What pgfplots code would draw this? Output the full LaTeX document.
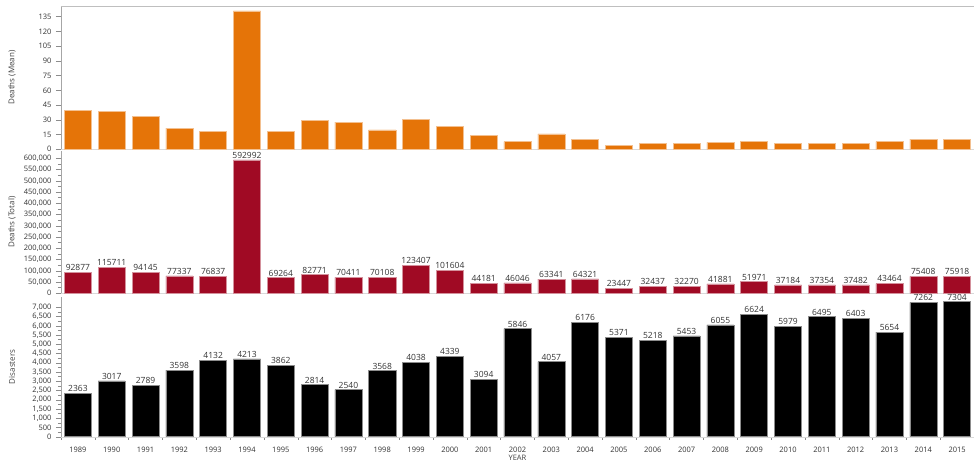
\documentclass[border=0pt]{standalone}
\usepackage{pgfplots}
\usepackage{pgfplotstable}
\pgfplotsset{compat=1.18}
\usepackage{fontspec}
\setmainfont{Open Sans}
\definecolor{cOrange}{HTML}{E57408}
\definecolor{cRed}{HTML}{A00A24}
\pgfplotstableread{
i year mean total dis
0 1989 39.30 92877 2363
1 1990 38.35 115711 3017
2 1991 33.76 94145 2789
3 1992 21.49 77337 3598
4 1993 18.60 76837 4132
5 1994 140.75 592992 4213
6 1995 17.93 69264 3862
7 1996 29.41 82771 2814
8 1997 27.72 70411 2540
9 1998 19.65 70108 3568
10 1999 30.56 123407 4038
11 2000 23.42 101604 4339
12 2001 14.28 44181 3094
13 2002 7.88 46046 5846
14 2003 15.61 63341 4057
15 2004 10.41 64321 6176
16 2005 4.37 23447 5371
17 2006 6.22 32437 5218
18 2007 5.92 32270 5453
19 2008 6.92 41881 6055
20 2009 7.85 51971 6624
21 2010 6.22 37184 5979
22 2011 5.75 37354 6495
23 2012 5.85 37482 6403
24 2013 7.69 43464 5654
25 2014 10.38 75408 7262
26 2015 10.39 75918 7304
}\data
\pgfplotsset{
  panel/.style={
    scale only axis, width=913pt, xmin=-0.5, xmax=26.5, ymin=0,
    anchor=south west,
    axis x line*=bottom, axis y line*=left,
    x axis line style={draw=black!15, -},
    y axis line style={draw=black!35, -},
    tick style={draw=black!45, line width=0.4pt},
    tick align=outside, major tick length=5pt, minor tick length=3pt,
    ytick pos=left,
    tick label style={font=\fontsize{7.5}{9}\selectfont, text=black!80},
    yticklabel style={xshift=-1pt},
    /pgf/number format/assume math mode=true,
    scaled y ticks=false,
    yticklabel={\pgfmathprintnumber[fixed,precision=0,1000 sep={,}]{\tick}},
    ybar, bar width=0.8, clip=false,
    every axis y label/.style={at={(axis description cs:-0.0537,0.5)}, rotate=90, anchor=center, font=\fontsize{8}{10}\selectfont, text=black!75},
    every node near coord/.append style={font=\fontsize{8.5}{10}\selectfont, text=black!80, inner sep=1.2pt},
  }
}
\begin{document}
\begin{tikzpicture}
\useasboundingbox (0,0) rectangle (974pt,461pt);
% top panel
\begin{axis}[panel, at={(61pt,311.7pt)}, height=143.3pt, ymax=145.8,
  ytick={0,15,...,135}, xtick=\empty, ylabel={Deaths (Mean)}]
\addplot[fill=cOrange, draw=cOrange!45!white, line width=0.5pt] table[x=i, y=mean] {\data};
\draw[black!25] (rel axis cs:0,1) -- (rel axis cs:1,1);
\end{axis}
% middle panel
\begin{axis}[panel, at={(61pt,167.7pt)}, height=142.3pt, ymax=632444,
  ytick={0,50000,...,600000}, minor y tick num=1, xtick=\empty, ylabel={Deaths (Total)},
  nodes near coords, point meta=explicit symbolic]
\addplot[fill=cRed, draw=cRed!45!white, line width=0.5pt] table[x=i, y=total, meta=total] {\data};
\end{axis}
% bottom panel
\begin{axis}[panel, at={(61pt,24.3pt)}, height=139.7pt, ymax=7557,
  ytick={0,500,...,7000}, minor y tick num=1, ylabel={Disasters},
  xtick={0,...,26}, xticklabels={1989,1990,1991,1992,1993,1994,1995,1996,1997,1998,1999,2000,2001,2002,2003,2004,2005,2006,2007,2008,2009,2010,2011,2012,2013,2014,2015},
  x tick style={draw=none},
  minor xtick={-0.5,0.5,...,26.5},
  minor x tick style={draw=black!45},
  xticklabel style={yshift=-2pt},
  xlabel={YEAR},
  every axis x label/.style={at={(axis description cs:0.5,0)}, yshift=-21pt, anchor=center, font=\fontsize{7.5}{9}\selectfont, text=black!75},
  nodes near coords, point meta=explicit symbolic]
\addplot[fill=black, draw=black!45, line width=0.5pt] table[x=i, y=dis, meta=dis] {\data};
\end{axis}
\end{tikzpicture}
\end{document}
